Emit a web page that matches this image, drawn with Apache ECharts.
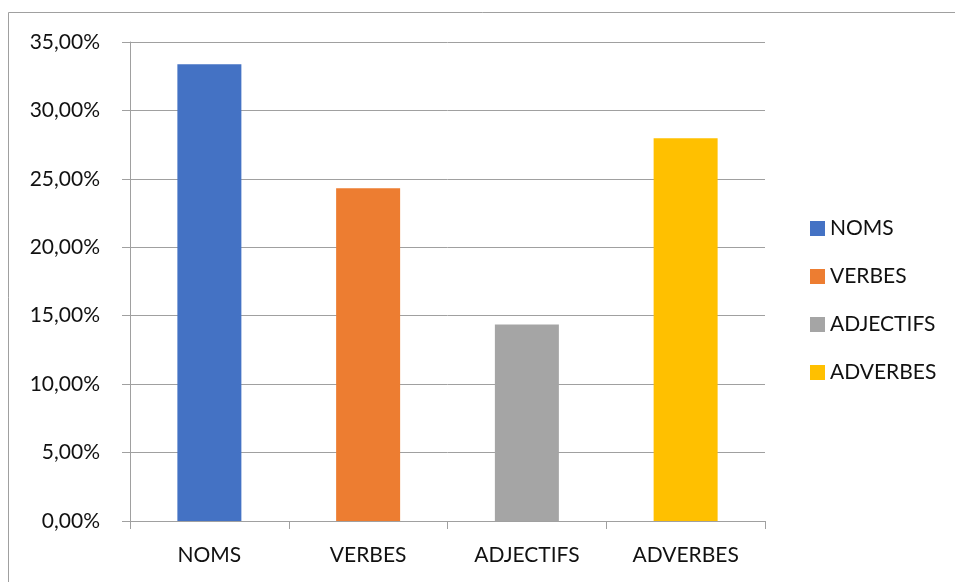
<!DOCTYPE html>
<html>
<head>
<meta charset="utf-8">
<script src="https://cdn.jsdelivr.net/npm/echarts@6/dist/echarts.min.js"></script>
<style>
  html, body { margin: 0; padding: 0; background: #fff; }
  #chart { width: 955px; height: 582px; }
</style>
</head>
<body>
<div id="chart"></div>
<script>
// Part de chaque catégorie grammaticale (en %)
const categories = ['NOMS', 'VERBES', 'ADJECTIFS', 'ADVERBES'];
const values = [33.37, 24.31, 14.36, 27.96];
const colors = ['#4472C4', '#ED7D31', '#A5A5A5', '#FFC000'];
const yMin = 0, yMax = 35, yStep = 5;

const FONT = 'Lato, "Open Sans", sans-serif';
const chart = echarts.init(document.getElementById('chart'));

// One series per category so that the legend lists each category;
// stacking keeps every bar centred on its own slot.
const series = categories.map((name, i) => ({
  name: name,
  type: 'bar',
  stack: 'all',
  barWidth: 64,
  itemStyle: { color: colors[i] },
  data: categories.map((c, j) => (j === i ? values[i] : null))
}));

chart.setOption({
  animation: false,
  backgroundColor: '#fff',
  graphic: [{
    type: 'rect',
    shape: { x: 8.5, y: 12.5, width: 1200, height: 1200 },
    style: { fill: 'none', stroke: '#a0a0a0', lineWidth: 1 },
    silent: true
  }],
  grid: { left: 130, right: 190, top: 42, bottom: 61 },
  legend: {
    orient: 'vertical',
    left: 805,
    top: 213,
    itemWidth: 15,
    itemHeight: 15,
    itemGap: 27,
    icon: 'rect',
    textStyle: { fontFamily: FONT, fontSize: 21, color: '#111' },
    data: categories
  },
  xAxis: {
    type: 'category',
    data: categories,
    axisLine: { lineStyle: { color: '#a0a0a0' } },
    axisTick: { show: true, length: 8, lineStyle: { color: '#a0a0a0' } },
    axisLabel: { margin: 24, fontFamily: FONT, fontSize: 21, color: '#111' }
  },
  yAxis: {
    type: 'value',
    min: yMin, max: yMax, interval: yStep,
    axisLine: { show: true, lineStyle: { color: '#a0a0a0' } },
    axisTick: { show: true, length: 8, lineStyle: { color: '#a0a0a0' } },
    splitLine: { lineStyle: { color: '#a0a0a0' } },
    axisLabel: {
      margin: 30,
      fontFamily: FONT, fontSize: 21, color: '#111',
      formatter: v => v.toFixed(2).replace('.', ',') + '%'
    }
  },
  series: series
});
</script>
</body>
</html>
